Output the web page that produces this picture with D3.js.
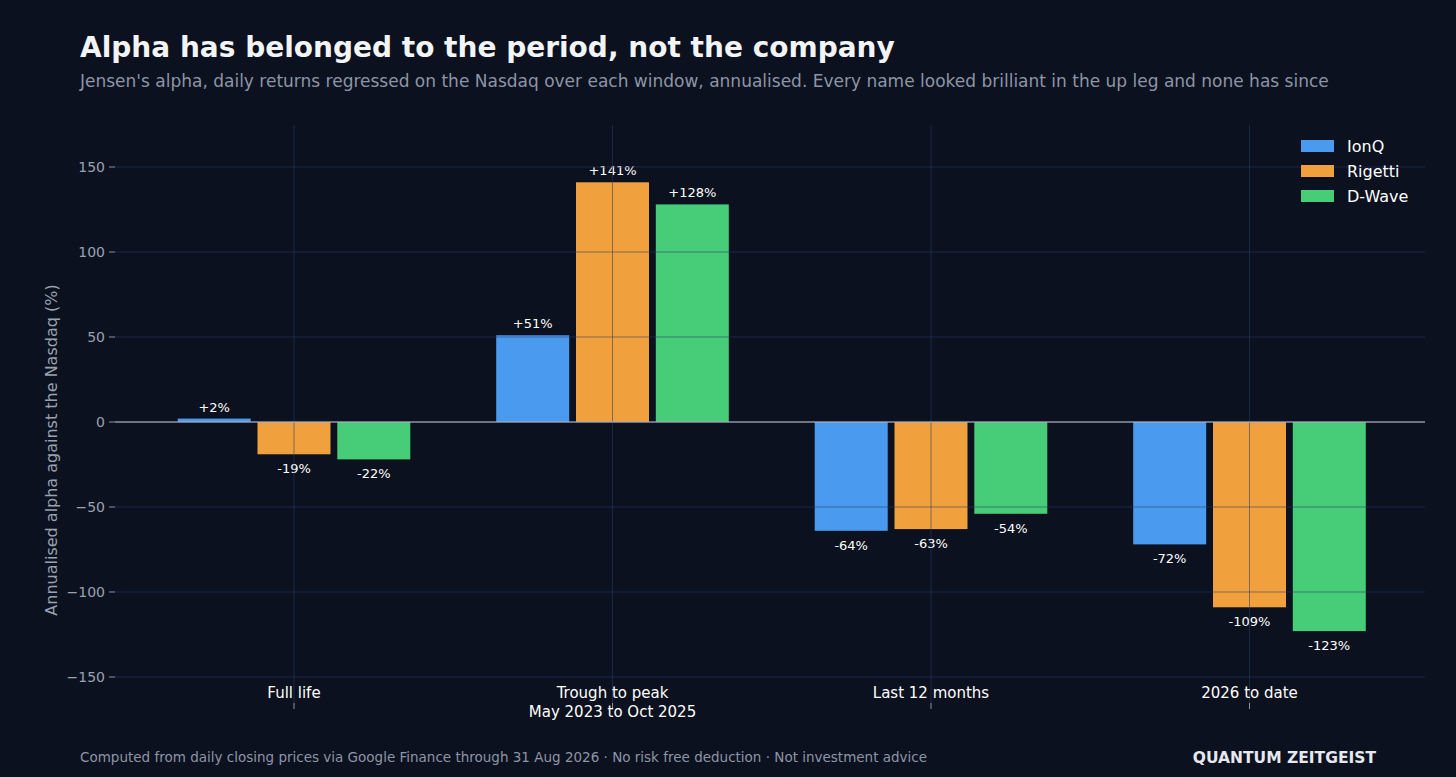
<!DOCTYPE html>
<html><head><meta charset="utf-8">
<script src="https://cdn.jsdelivr.net/npm/d3@7"></script>
<style>body{margin:0;background:#0b111e;}svg{display:block;font-family:"DejaVu Sans",sans-serif;}</style>
</head><body><svg id="c" width="1456" height="777"></svg>
<script>
const categories = ["Full life", "Trough to peak", "Last 12 months", "2026 to date"];
const subLabels = ["", "May 2023 to Oct 2025", "", ""];
const seriesNames = ["IonQ", "Rigetti", "D-Wave"];
const seriesColors = ["#4a9bf0", "#f0a03c", "#47cc77"];
const ionq = [2, 51, -64, -72];
const rigetti = [-19, 141, -63, -109];
const dwave = [-22, 128, -54, -123];
const yTicks = [150, 100, 50, 0, -50, -100, -150];
const values = [ionq, rigetti, dwave];

const svg = d3.select("#c");
svg.append("rect").attr("width",1456).attr("height",777).attr("fill","#0b111e");
const L=115,R=1425,T=125,B=703;
const y = d3.scaleLinear().domain([-165.3,174.7]).range([B,T]);
const x = d3.scaleLinear().domain([0,1]).range([294,612.5]);
const bw = 73, off = 79.8;

// bars
values.forEach((vals,s)=>{
  vals.forEach((v,i)=>{
    const cx = x(i)+(s-1)*off;
    svg.append("rect").attr("x",cx-bw/2).attr("width",bw)
      .attr("y",y(Math.max(0,v))).attr("height",Math.abs(y(v)-y(0)))
      .attr("fill",seriesColors[s]);
    svg.append("text").attr("x",cx).attr("y", v>=0 ? y(v)-7 : y(v)+19)
      .attr("text-anchor","middle").attr("fill","#ffffff").attr("font-size",13)
      .text((v>0?"+":"")+v+"%");
  });
});
// grid
const g = svg.append("g");
yTicks.forEach(t=>{
  g.append("line").attr("x1",L).attr("x2",R).attr("y1",y(t)).attr("y2",y(t))
   .attr("stroke","#2a3a6a").attr("stroke-opacity",0.55).attr("stroke-width",1);
  g.append("line").attr("x1",L-6).attr("x2",L).attr("y1",y(t)).attr("y2",y(t)).attr("stroke","#8a93a6");
  g.append("text").attr("x",L-10).attr("y",y(t)+5).attr("text-anchor","end")
   .attr("fill","#9aa2b2").attr("font-size",14).text(t<0?"\u2212"+(-t):t);
});
categories.forEach((c,i)=>{
  g.append("line").attr("x1",x(i)).attr("x2",x(i)).attr("y1",T).attr("y2",B)
   .attr("stroke","#2a3a6a").attr("stroke-opacity",0.55);
  g.append("line").attr("x1",x(i)).attr("x2",x(i)).attr("y1",B).attr("y2",B+6).attr("stroke","#8a93a6");
  g.append("text").attr("x",x(i)).attr("y",698+0).attr("dy",0).attr("text-anchor","middle")
   .attr("fill","#ffffff").attr("font-size",15).attr("y",698).text(c);
  if(subLabels[i]) g.append("text").attr("x",x(i)).attr("y",717).attr("text-anchor","middle")
   .attr("fill","#ffffff").attr("font-size",15).text(subLabels[i]);
});
svg.append("line").attr("x1",L).attr("x2",R).attr("y1",y(0)).attr("y2",y(0)).attr("stroke","#c8ccd4").attr("stroke-width",1.2);

// y label
svg.append("text").attr("transform",`translate(57,${(T+B)/2+36}) rotate(-90)`).attr("text-anchor","middle")
  .attr("fill","#9aa2b2").attr("font-size",16).text("Annualised alpha against the Nasdaq (%)");

// legend
seriesNames.forEach((n,s)=>{
  svg.append("rect").attr("x",1301).attr("y",140+s*25).attr("width",33).attr("height",12).attr("fill",seriesColors[s]);
  svg.append("text").attr("x",1347).attr("y",152+s*25).attr("fill","#ffffff").attr("font-size",16).text(n);
});

svg.append("text").attr("x",80).attr("y",57).attr("fill","#f2f4f8").attr("font-size",28).attr("font-weight","bold")
  .text("Alpha has belonged to the period, not the company");
svg.append("text").attr("x",80).attr("y",87).attr("fill","#8d95a6").attr("font-size",17)
  .text("Jensen's alpha, daily returns regressed on the Nasdaq over each window, annualised. Every name looked brilliant in the up leg and none has since");
svg.append("text").attr("x",80).attr("y",762).attr("fill","#8d95a6").attr("font-size",13.5)
  .text("Computed from daily closing prices via Google Finance through 31 Aug 2026 \u00b7 No risk free deduction \u00b7 Not investment advice");
svg.append("text").attr("x",1376).attr("y",763).attr("text-anchor","end").attr("fill","#e6e8ee").attr("font-size",15.5).attr("font-weight","bold")
  .text("QUANTUM ZEITGEIST");
</script></body></html>
